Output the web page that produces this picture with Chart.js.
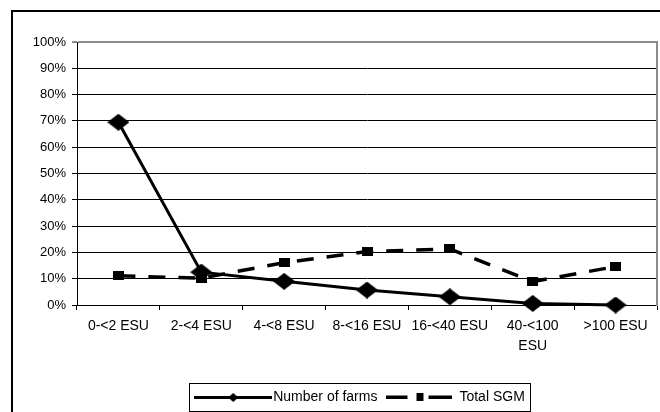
<!DOCTYPE html>
<html lang="en">
<head>
<meta charset="UTF-8">
<title>Farms and SGM by ESU class</title>
<script src="https://cdn.jsdelivr.net/npm/chart.js"></script>
<style>
  html, body { margin: 0; padding: 0; background: #fff; overflow: hidden; }
  #farmChart { position: absolute; left: 0; top: 0; }
  #frame { position: absolute; left: 11px; top: 10px; width: 800px; height: 500px; border: 2px solid #000; box-sizing: border-box; pointer-events: none; }
</style>
</head>
<body>
<canvas id="farmChart" width="720" height="430"></canvas>
<div id="frame"></div>
<script>
// size classes (ESU) and shares in %
const classes = ["0-<2 ESU", "2-<4 ESU", "4-<8 ESU", "8-<16 ESU", "16-<40 ESU", ["40-<100", "ESU"], ">100 ESU"];
const farmShare = [69.5, 12.5, 9, 5.7, 3.1, 0.6, 0];
const sgmShare = [11.1, 10.2, 16.1, 20.3, 21.3, 8.9, 14.6];
const yMax = 100;
const yStep = 10;

Chart.defaults.font.family = 'Arial, "Liberation Sans", sans-serif';
Chart.defaults.color = '#000';

function mark(w, h, shape) {
    const c = document.createElement('canvas');
    c.width = w; c.height = h;
    const g = c.getContext('2d');
    g.fillStyle = '#000';
    if (shape === 'diamond') {
        g.beginPath();
        g.moveTo(w / 2, 0); g.lineTo(w, h / 2); g.lineTo(w / 2, h); g.lineTo(0, h / 2);
        g.closePath(); g.fill();
    } else {
        g.fillRect(0, 0, w, h);
    }
    return c;
}

// little line + marker samples for the legend
function sample(kind) {
    const c = document.createElement('canvas');
    const g = c.getContext('2d');
    if (kind === 'solid') {
        c.width = 78; c.height = 14;
        g.fillStyle = '#000';
        g.fillRect(0, 6, 78, 3);
        g.drawImage(mark(10, 9, 'diamond'), 34, 3);
    } else {
        c.width = 66; c.height = 14;
        g.fillStyle = '#000';
        g.fillRect(0, 5.5, 21, 3.5);
        g.fillRect(30, 3, 7, 8);
        g.fillRect(42, 5.5, 24, 3.5);
    }
    return c;
}
const legendSamples = [sample('solid'), sample('dashed')];

const legendFrame = {
    id: 'legendFrame',
    afterDraw(chart) {
        const boxes = chart.legend.legendHitBoxes;
        if (!boxes || !boxes.length) return;
        const first = boxes[0], last = boxes[boxes.length - 1];
        const cy = first.top + first.height / 2;
        const left = Math.round(first.left - 11), right = Math.round(last.left + last.width + 5);
        const ctx = chart.ctx;
        ctx.save();
        ctx.strokeStyle = '#000';
        ctx.lineWidth = 1;
        ctx.strokeRect(left + 0.5, Math.round(cy - 14) + 0.5, right - left, 28);
        ctx.restore();
    }
};

new Chart(document.getElementById('farmChart'), {
    type: 'line',
    data: {
        labels: classes,
        datasets: [{
            label: 'Number of farms',
            data: farmShare,
            borderColor: '#000',
            borderWidth: 3,
            pointStyle: mark(22, 17, 'diamond'),
            clip: false,
            tension: 0
        }, {
            label: 'Total SGM',
            data: sgmShare,
            borderColor: '#000',
            borderWidth: 3.5,
            borderDash: [17, 13],
            pointStyle: mark(11, 9, 'square'),
            clip: false,
            tension: 0
        }]
    },
    options: {
        responsive: false,
        animation: false,
        devicePixelRatio: 1,
        layout: { padding: { left: 13, top: 42, right: 8, bottom: 16 } },
        plugins: {
            tooltip: { enabled: false },
            legend: {
                position: 'bottom',
                labels: {
                    usePointStyle: true,
                    pointStyleWidth: 66,
                    padding: 9,
                    font: { size: 14 },
                    generateLabels(chart) {
                        const items = Chart.defaults.plugins.legend.labels.generateLabels(chart);
                        items.forEach((it, i) => { it.pointStyle = legendSamples[i]; });
                        return items;
                    }
                }
            }
        },
        scales: {
            x: {
                offset: true,
                grid: { offset: true, drawOnChartArea: false, tickLength: 5, color: '#000' },
                border: { color: '#000', width: 1 },
                ticks: { font: { size: 14, lineHeight: 1.45 }, padding: 6, maxRotation: 0, autoSkip: false },
                afterFit(scale) { scale.height = 76; }
            },
            y: {
                min: 0,
                max: yMax,
                ticks: { stepSize: yStep, font: { size: 13 }, padding: 6, callback: v => v + '%' },
                grid: {
                    tickLength: 5,
                    color: c => c.tick && c.tick.value === yMax ? '#8c8c8c' : '#000',
                    lineWidth: c => c.tick && c.tick.value === yMax ? 2 : 1
                },
                border: { color: '#000', width: 1 },
                afterFit(scale) { scale.width = 64; }
            },
            y2: {
                position: 'right',
                min: 0,
                max: yMax,
                ticks: { display: false },
                grid: { display: false },
                border: { color: '#8c8c8c', width: 2 },
                afterFit(scale) { scale.width = 55; }
            }
        }
    },
    plugins: [legendFrame]
});
</script>
</body>
</html>
